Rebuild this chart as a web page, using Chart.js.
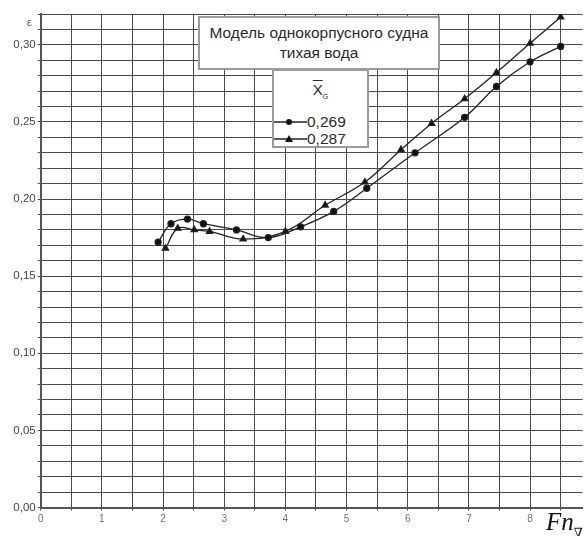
<!DOCTYPE html>
<html>
<head>
<meta charset="utf-8">
<script src="https://cdn.jsdelivr.net/npm/chart.js@4/dist/chart.umd.min.js"></script>
<style>
    body { margin: 0; background: #fff; }
    #wrap { position: relative; width: 588px; height: 536px; overflow: hidden; font-family: "Liberation Sans", Arial, sans-serif; }
    #chart { position: absolute; left: 0; top: 0; }
    .box { position: absolute; background: #fff; border: 2px solid #9a9a9a; box-sizing: border-box; color: #2a2a2a; }
    #title { left: 198px; top: 16px; width: 242px; height: 54px; text-align: center; font-size: 15.5px; line-height: 20px; padding-top: 5px; }
    #legend { left: 272px; top: 69px; width: 97px; height: 79px; font-size: 15.5px; }
    #legend .head { position: absolute; left: 0; width: 93px; top: 10px; text-align: center; font-size: 15px; }
    #legend .head span.x { text-decoration: overline; }
    #legend .head sub { font-size: 7px; }
    #legend .row { position: absolute; left: 0; height: 18px; line-height: 18px; }
    #legend .row svg { position: absolute; left: 0; top: 4px; }
    #legend .row span { position: absolute; left: 33px; }
    #eps { position: absolute; left: 27px; top: 16px; font-size: 11px; color: #555; }
    #fn { position: absolute; left: 546px; top: 508px; font-family: "Liberation Serif", "DejaVu Serif", serif; font-style: italic; font-size: 25px; color: #111; white-space: nowrap; }
    #fn sub { font-size: 13px; font-style: normal; vertical-align: -7px; }
</style>
</head>
<body>
<div id="wrap">
    <canvas id="chart" width="588" height="536"></canvas>
    <div id="eps">ε</div>
    <div class="box" id="title">Модель однокорпусного судна<br>тихая вода</div>
    <div class="box" id="legend">
        <div class="head"><span class="x">X</span><sub>G</sub></div>
        <div class="row" style="top:42px"><svg width="34" height="10"><line x1="0" y1="5" x2="33" y2="5" stroke="#222" stroke-width="1.3"/><circle cx="15" cy="5" r="3" fill="#111"/></svg><span>0,269</span></div>
        <div class="row" style="top:59px"><svg width="34" height="10"><line x1="0" y1="5" x2="33" y2="5" stroke="#222" stroke-width="1.3"/><polygon points="15,1 19,8 11,8" fill="#111"/></svg><span>0,287</span></div>
    </div>
    <div id="fn">Fn<sub>∇</sub></div>
</div>
<script>
// Fn values and epsilon for the two X_G positions
var fn_269 = [1.92, 2.13, 2.40, 2.66, 3.20, 3.72, 4.25, 4.79, 5.33, 6.12, 6.93, 7.45, 8.00, 8.50];
var eps_269 = [0.172, 0.184, 0.187, 0.184, 0.180, 0.175, 0.182, 0.192, 0.207, 0.230, 0.253, 0.273, 0.289, 0.299];
var fn_287 = [2.04, 2.24, 2.51, 2.76, 3.31, 4.00, 4.65, 5.30, 5.89, 6.39, 6.93, 7.45, 8.00, 8.50];
var eps_287 = [0.168, 0.181, 0.180, 0.179, 0.174, 0.179, 0.196, 0.211, 0.232, 0.249, 0.265, 0.282, 0.301, 0.318];

var x_ticks = [0, 0.5, 1, 1.5, 2, 2.5, 3, 3.5, 4, 4.5, 5, 5.5, 6, 6.5, 7, 7.5, 8, 8.5];

function toPoints(xs, ys) {
    var pts = [];
    for (var i = 0; i < xs.length; i++) {
        pts.push({x: xs[i], y: ys[i]});
    }
    return pts;
}

var ctx = document.getElementById('chart');
var chart = new Chart(ctx, {
    type: 'line',
    data: {
        datasets: [{
            label: '0,269',
            data: toPoints(fn_269, eps_269),
            borderColor: '#222',
            backgroundColor: '#111',
            borderWidth: 1.3,
            pointStyle: 'circle',
            pointRadius: 3,
            tension: 0.4
        }, {
            label: '0,287',
            data: toPoints(fn_287, eps_287),
            borderColor: '#222',
            backgroundColor: '#111',
            borderWidth: 1.3,
            pointStyle: 'triangle',
            pointRadius: 3.6,
            tension: 0.4
        }]
    },
    options: {
        responsive: false,
        animation: false,
        devicePixelRatio: 1,
        layout: { padding: { top: 14, right: 0, left: 0, bottom: 0 } },
        plugins: { legend: { display: false }, tooltip: { enabled: false } },
        scales: {
            x: {
                type: 'linear',
                min: 0,
                max: 8.86,
                afterBuildTicks: function(scale) {
                    scale.ticks = x_ticks.map(function(v) { return {value: v}; });
                },
                afterFit: function(scale) { scale.height = 28.5; },
                grid: { color: '#4a4a4a', lineWidth: 1, tickLength: 3, drawTicks: true },
                border: { color: '#555', width: 2 },
                ticks: {
                    autoSkip: false,
                    maxRotation: 0,
                    padding: 3,
                    color: '#707070',
                    font: { family: 'Liberation Sans', size: 10 },
                    callback: function(v) { return (v % 1 === 0) ? String(v) : ''; }
                }
            },
            y: {
                type: 'linear',
                min: 0,
                max: 0.32,
                afterFit: function(scale) { scale.width = 40.7; },
                grid: { color: '#4a4a4a', lineWidth: 1, tickLength: 3 },
                border: { color: '#555', width: 2 },
                ticks: {
                    stepSize: 0.01,
                    autoSkip: false,
                    padding: 2,
                    color: '#444',
                    font: { family: 'Liberation Sans', size: 11.5 },
                    callback: function(v) {
                        var k = Math.round(v * 100);
                        return (k % 5 === 0) ? (k / 100).toFixed(2).replace('.', ',') : '';
                    }
                }
            }
        }
    }
});
</script>
</body>
</html>
